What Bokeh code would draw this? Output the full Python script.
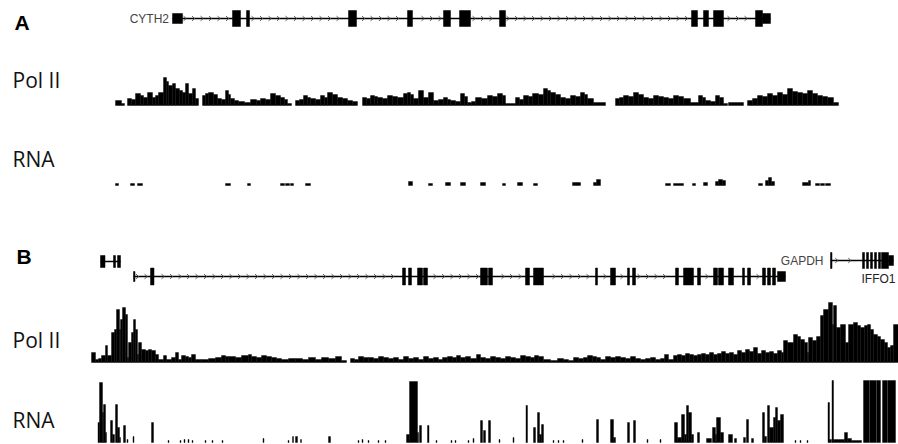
import numpy as np
from bokeh.plotting import figure
from bokeh.models import Range1d
from bokeh.core.properties import value
from bokeh.embed import file_html
from bokeh.resources import INLINE

# ---------------- data: positions in kb along each panel window, signal in a.u. -------------
panel_letters = ["A", "B"]
track_labels = ["Pol II", "RNA", "Pol II", "RNA"]

# Panel A gene (CYTH2): exons (start, end, kind)  kind: c = coding, u = UTR
cyth2_span = (17.2, 77.0)
cyth2_exons = [(17.2, 18.2, "u"), (23.2, 24.0, "c"), (24.6, 24.9, "c"), (34.8, 35.6, "c"),
               (40.7, 41.2, "c"), (44.3, 45.0, "c"), (45.9, 47.0, "c"), (49.9, 50.5, "c"),
               (69.1, 69.7, "c"), (70.3, 70.8, "c"), (71.3, 72.3, "c"), (75.5, 76.2, "c"),
               (76.2, 77.0, "u")]

# Panel B genes
small_span = (10.0, 12.0)
small_exons = [(10.0, 10.45, "c"), (11.3, 11.5, "c"), (11.7, 12.0, "c")]
ncapd2_span = (13.3, 78.5)
ncapd2_exons = [(13.3, 13.45, "u"), (15.0, 15.35, "c"), (40.2, 40.5, "c"), (40.8, 41.1, "c"),
                (41.7, 42.2, "c"), (42.3, 42.7, "c"), (48.0, 48.7, "c"), (48.8, 49.2, "c"),
                (52.5, 52.9, "c"), (53.3, 54.3, "c"), (59.5, 59.7, "c"), (61.0, 61.5, "c"),
                (62.7, 62.9, "c"), (63.2, 63.5, "c"), (67.5, 67.8, "c"), (68.3, 69.3, "c"),
                (69.7, 70.0, "c"), (71.3, 71.7, "c"), (71.8, 72.3, "c"), (72.8, 73.3, "c"),
                (74.2, 74.4, "c"), (74.7, 75.0, "c"), (76.2, 76.5, "c"), (76.7, 77.0, "c"),
                (77.2, 77.5, "c"), (77.7, 78.5, "u")]
gapdh_span = (83.0, 89.3)
gapdh_exons = [(83.0, 83.15, "c"), (86.2, 86.4, "c"), (86.6, 86.8, "c"), (87.0, 87.2, "c"),
               (87.4, 87.6, "c"), (87.8, 88.0, "c"), (88.1, 88.8, "c"), (88.8, 89.3, "u")]
gene_names = ["CYTH2", "GAPDH", "IFFO1"]

# Pol II, panel A: (bin start kb, signal); last bin ends at pol2_a_end
pol2_a = [(11.5, 5), (12.1, 2), (12.4, 0), (12.7, 7), (13.1, 6), (13.5, 12), (14.0, 10), (14.3, 8),
          (14.7, 13), (15.2, 8), (15.5, 10), (15.8, 13), (16.3, 28), (16.6, 24), (16.8, 20), (17.2, 22),
          (17.5, 17), (17.9, 15), (18.2, 13), (18.5, 22), (18.8, 12), (19.2, 17), (19.5, 7), (19.8, 0),
          (20.2, 10), (20.5, 12), (20.8, 13), (21.3, 11), (21.7, 7), (22.1, 6), (22.5, 15), (22.8, 11),
          (23.0, 7), (23.4, 5), (23.8, 4), (24.4, 3), (25.0, 6), (25.6, 5), (26.0, 7), (26.5, 6),
          (27.0, 12), (27.5, 10), (28.0, 8), (28.4, 6), (28.7, 2), (29.1, 0), (29.5, 5), (29.9, 6),
          (30.3, 10), (30.7, 8), (31.0, 7), (31.5, 6), (32.0, 10), (32.4, 8), (32.7, 13), (33.2, 11),
          (33.7, 8), (34.2, 7), (34.7, 5), (35.2, 4), (35.7, 0), (36.2, 8), (36.6, 7), (37.0, 10),
          (37.4, 9), (37.7, 8), (38.2, 7), (38.7, 10), (39.2, 9), (39.7, 8), (40.3, 12), (40.7, 13),
          (41.0, 11), (41.3, 7), (41.8, 15), (42.3, 8), (42.8, 13), (43.3, 5), (43.8, 6), (44.3, 8),
          (44.7, 6), (45.0, 5), (45.5, 4), (46.0, 12), (46.4, 9), (46.7, 3), (47.1, 4), (47.5, 8),
          (48.1, 7), (48.7, 10), (49.2, 9), (49.7, 12), (50.2, 10), (50.5, 2), (51.5, 8), (51.9, 6),
          (52.3, 10), (52.8, 9), (53.2, 12), (53.8, 11), (54.3, 17), (54.7, 15), (55.0, 13), (55.5, 11),
          (56.0, 8), (56.5, 7), (57.0, 10), (57.5, 9), (58.0, 13), (58.4, 11), (58.7, 7), (59.3, 3),
          (60.5, 0), (61.5, 7), (61.9, 8), (62.3, 10), (62.8, 9), (63.3, 13), (63.8, 11), (64.3, 8),
          (64.8, 7), (65.3, 10), (65.8, 9), (66.3, 8), (66.8, 7), (67.3, 10), (67.8, 9), (68.3, 7),
          (69.0, 3), (69.8, 10), (70.2, 8), (70.5, 5), (71.0, 4), (71.5, 10), (71.9, 8), (72.3, 2),
          (72.7, 0), (72.8, 3), (74.3, 0), (74.7, 5), (75.2, 7), (75.7, 10), (76.2, 9), (76.7, 12),
          (77.2, 10), (77.7, 13), (78.2, 11), (78.7, 17), (79.2, 14), (79.7, 13), (80.2, 12), (80.7, 15),
          (81.2, 12), (81.7, 10), (82.2, 9), (82.7, 8), (83.3, 3)]
pol2_a_end = 83.8

# RNA, panel A: (start, end, signal)
rna_a = [(11.5, 11.8, 2), (13.0, 13.4, 2), (13.7, 14.2, 2), (22.5, 23.0, 2), (24.7, 25.0, 2),
         (28.0, 28.4, 2), (28.5, 28.9, 2), (29.0, 29.3, 2), (30.5, 31.0, 2), (40.8, 41.2, 4),
         (42.8, 43.2, 2), (44.5, 45.0, 3), (46.0, 46.5, 3), (48.0, 48.5, 3), (50.2, 50.5, 2),
         (51.7, 52.2, 3), (53.3, 53.7, 2), (57.2, 58.0, 3), (59.3, 59.6, 3), (59.6, 60.0, 6),
         (66.5, 67.0, 2), (67.3, 68.3, 2), (69.2, 69.5, 2), (70.3, 70.7, 3), (71.5, 71.8, 4),
         (71.8, 72.2, 6), (72.2, 72.5, 5), (75.8, 76.2, 2), (76.5, 76.8, 5), (76.8, 77.1, 8),
         (77.1, 77.4, 4), (80.2, 80.8, 3), (80.8, 81.0, 5), (81.5, 81.9, 2), (82.0, 82.4, 2),
         (82.5, 83.0, 2)]

# Pol II, panel B: (bin start kb, signal); last bin ends at pol2_b_end
pol2_b = [(9.1, 10), (9.5, 3), (9.8, 4), (10.1, 7), (10.5, 17), (10.7, 7), (11.1, 30), (11.4, 33),
          (11.6, 53), (11.9, 33), (12.0, 43), (12.2, 55), (12.5, 48), (12.7, 5), (12.8, 20), (13.1, 30),
          (13.3, 43), (13.5, 33), (13.7, 8), (13.8, 20), (14.1, 13), (14.5, 12), (14.8, 13), (15.1, 12),
          (15.5, 8), (15.8, 3), (16.3, 7), (16.6, 3), (17.1, 5), (17.5, 10), (17.8, 3), (18.1, 7),
          (18.5, 6), (18.8, 5), (19.1, 8), (19.5, 3), (20.1, 3), (20.8, 4), (21.5, 5), (22.1, 7),
          (22.5, 6), (22.8, 6), (23.5, 5), (24.1, 7), (24.8, 8), (25.1, 6), (25.6, 5), (26.1, 7),
          (26.6, 6), (27.1, 5), (27.6, 4), (28.1, 3), (28.8, 4), (29.5, 4), (30.2, 3), (30.8, 5),
          (31.5, 3), (32.1, 5), (32.8, 4), (33.5, 6), (34.1, 2), (34.6, 0), (35.0, 4), (35.4, 3),
          (35.8, 6), (36.3, 5), (36.8, 5), (37.3, 4), (37.8, 6), (38.3, 5), (38.8, 4), (39.3, 5),
          (39.8, 3), (40.3, 6), (40.8, 4), (41.3, 5), (41.8, 3), (42.3, 6), (42.8, 4), (43.3, 5),
          (43.8, 3), (44.2, 5), (44.7, 6), (45.2, 5), (45.6, 7), (46.0, 5), (46.5, 6), (47.0, 4),
          (47.6, 8), (48.0, 5), (48.5, 4), (49.0, 6), (49.5, 5), (50.0, 4), (50.5, 6), (51.0, 5),
          (51.5, 4), (52.0, 7), (52.5, 6), (53.0, 5), (53.4, 7), (53.8, 6), (54.3, 3), (55.0, 2),
          (55.7, 4), (56.3, 3), (56.8, 2), (57.3, 5), (57.8, 4), (58.3, 5), (58.7, 7), (59.2, 6),
          (59.6, 5), (60.0, 3), (60.5, 6), (61.0, 5), (61.5, 6), (62.0, 5), (62.5, 4), (63.0, 6),
          (63.5, 4), (64.0, 3), (64.5, 4), (65.0, 5), (65.5, 3), (66.0, 4), (66.4, 8), (66.8, 3),
          (67.3, 7), (67.7, 8), (68.1, 7), (68.5, 9), (68.9, 8), (69.3, 7), (69.7, 8), (70.1, 9),
          (70.5, 8), (70.9, 10), (71.3, 8), (71.7, 9), (72.1, 11), (72.5, 9), (72.9, 10), (73.3, 8),
          (73.7, 12), (74.1, 10), (74.5, 13), (74.9, 11), (75.3, 15), (75.7, 9), (76.1, 12), (76.5, 10),
          (76.9, 11), (77.3, 9), (77.7, 12), (78.1, 10), (78.3, 22), (78.7, 20), (79.3, 28), (79.7, 26),
          (80.0, 23), (80.4, 20), (80.7, 10), (80.8, 25), (81.2, 22), (81.6, 26), (82.0, 47), (82.3, 53),
          (82.8, 60), (83.2, 38), (83.3, 57), (83.6, 35), (84.0, 38), (84.5, 20), (84.8, 38), (85.3, 40),
          (85.7, 37), (86.0, 35), (86.4, 37), (86.7, 38), (87.0, 33), (87.3, 28), (87.7, 26), (88.0, 23),
          (88.4, 20), (88.7, 15), (89.0, 17), (89.3, 38)]
pol2_b_end = 89.8

# RNA, panel B: (start, end, signal); 62 = saturated
rna_b = [(9.75, 9.9, 20), (9.9, 10.2, 60), (10.2, 10.3, 30), (10.3, 10.5, 38), (10.5, 10.6, 10),
         (11.0, 11.2, 22), (11.2, 11.4, 8), (11.5, 11.7, 38), (11.7, 11.9, 15), (11.9, 12.0, 5),
         (12.3, 12.5, 17), (12.65, 12.75, 3), (13.25, 13.35, 6), (15.1, 15.3, 20), (16.75, 16.85, 2),
         (17.95, 18.05, 2), (18.35, 18.45, 3), (18.75, 18.85, 3), (19.15, 19.25, 2), (20.45, 20.55, 2),
         (21.15, 21.25, 2), (22.15, 22.25, 2), (26.25, 26.35, 4), (28.75, 28.85, 2), (29.2, 29.3, 6),
         (29.5, 29.7, 6), (30.0, 30.1, 3), (32.8, 33.0, 6), (35.75, 35.85, 2), (36.15, 36.25, 3),
         (36.75, 36.85, 2), (37.75, 37.85, 2), (38.45, 38.55, 2), (40.6, 40.9, 8), (40.9, 41.7, 61),
         (41.7, 41.8, 10), (41.9, 42.1, 17), (42.7, 42.85, 17), (43.55, 43.65, 2), (45.05, 45.15, 2),
         (45.45, 45.55, 2), (46.75, 46.85, 2), (47.25, 47.35, 4), (48.0, 48.2, 22), (48.3, 48.5, 12),
         (48.8, 49.0, 22), (49.85, 49.95, 3), (51.25, 51.35, 5), (52.55, 52.7, 37), (53.3, 53.5, 15),
         (53.7, 53.9, 30), (53.9, 54.1, 8), (54.1, 54.3, 18), (55.25, 55.35, 2), (55.75, 55.85, 2),
         (56.25, 56.35, 2), (58.15, 58.25, 3), (59.6, 59.8, 23), (61.0, 61.3, 23), (61.3, 61.5, 5),
         (62.7, 62.9, 20), (63.3, 63.5, 22), (64.65, 64.75, 3), (65.95, 66.05, 3), (67.4, 67.7, 20),
         (67.7, 68.1, 5), (68.1, 68.4, 28), (68.4, 68.6, 8), (68.6, 68.8, 37), (68.8, 69.1, 30),
         (69.1, 69.3, 8), (69.7, 69.9, 10), (70.6, 71.1, 4), (71.2, 71.5, 15), (71.5, 71.6, 8),
         (71.6, 72.0, 25), (72.0, 72.3, 10), (72.8, 73.2, 8), (73.4, 73.6, 4), (74.3, 74.5, 5),
         (74.6, 74.8, 23), (75.1, 75.3, 4), (76.2, 76.4, 30), (76.4, 76.6, 6), (76.7, 76.9, 37),
         (76.9, 77.3, 15), (77.3, 77.5, 25), (77.5, 77.7, 35), (77.7, 78.0, 22), (78.0, 78.3, 28),
         (79.45, 79.55, 2), (79.95, 80.05, 2), (80.65, 80.75, 2), (82.75, 82.9, 40), (82.9, 83.1, 3),
         (83.15, 83.3, 62), (83.3, 84.4, 3), (84.4, 84.7, 10), (84.7, 85.1, 4), (85.1, 86.1, 2),
         (86.3, 86.9, 62), (86.95, 87.6, 62), (87.65, 88.0, 62), (88.2, 88.7, 62), (88.75, 89.5, 62)]

# ---------------- figure ----------------
p = figure(width=898, height=444, x_range=Range1d(0.0, 89.8), y_range=Range1d(444, 0),
           output_backend="svg", toolbar_location=None, x_axis_location=None,
           y_axis_location=None, min_border=0)
p.grid.visible = False
p.outline_line_color = None

# layout lanes (vertical placement of tracks)
LANE = {"geneA": 18, "pol2A": 105, "rnaA": 185, "small": 261, "geneB": 276,
        "gapdh": 260, "pol2B": 362, "rnaB": 442}


def draw_binned(bins, end, base):
    st = np.array([b[0] for b in bins], float)
    h = np.array([b[1] for b in bins], float)
    en = np.append(st[1:], end)
    m = h > 0
    p.quad(left=st[m], right=en[m], bottom=base, top=base - h[m],
           fill_color="black", line_color="black", line_width=0.4)


def draw_intervals(iv, base):
    st = np.array([r[0] for r in iv], float)
    en = np.array([r[1] for r in iv], float)
    h = np.array([r[2] for r in iv], float)
    p.quad(left=st, right=en, bottom=base, top=base - h,
           fill_color="black", line_color="black", line_width=0.4)


def draw_gene(span, exons, lane, full, utr, step=0.85, chevrons=True):
    p.segment(x0=[span[0]], y0=[lane], x1=[span[1]], y1=[lane],
              line_color="black", line_width=1.4)
    if chevrons:
        xs = np.arange(span[0] + step / 2, span[1], step)
        keep = [x for x in xs if all(not (s - 0.25 <= x <= e + 0.25) for s, e, _ in exons)]
        xs = np.array(keep)
        p.segment(x0=xs - 0.17, y0=lane - 2.3, x1=xs + 0.1, y1=lane,
                  line_color="#555555", line_width=1)
        p.segment(x0=xs - 0.17, y0=lane + 2.3, x1=xs + 0.1, y1=lane,
                  line_color="#555555", line_width=1)
    st = np.array([e[0] for e in exons])
    en = np.array([e[1] for e in exons])
    hh = np.array([full if e[2] == "c" else utr for e in exons], float)
    p.quad(left=st, right=en, bottom=lane + hh, top=lane - hh,
           fill_color="black", line_color="black", line_width=0.5)


# gene models
draw_gene(cyth2_span, cyth2_exons, LANE["geneA"], 8, 5)
draw_gene(small_span, small_exons, LANE["small"], 6, 4, chevrons=False)
draw_gene(ncapd2_span, ncapd2_exons, LANE["geneB"], 8.5, 5)
draw_gene(gapdh_span, gapdh_exons, LANE["gapdh"], 8, 5, step=1.3)

# signal tracks
draw_binned(pol2_a, pol2_a_end, LANE["pol2A"])
draw_intervals(rna_a, LANE["rnaA"])
draw_binned(pol2_b, pol2_b_end, LANE["pol2B"])
draw_intervals(rna_b, LANE["rnaB"])

# texts (vertically centred on the visual centre of the capitals)
p.text(x=[1.4, 1.6], y=[22, 256], text=panel_letters, text_font=value("Liberation Sans"),
       text_font_style="bold", text_font_size=value("21px"), text_color="black",
       text_baseline="middle", text_align="left")
p.text(x=[1.2, 1.2, 1.2, 1.2], y=[79, 158, 339, 419], text=track_labels,
       text_font=value("Open Sans"), text_font_size=value("21px"), text_color="#111111",
       text_baseline="middle", text_align="left")
p.text(x=[16.85, 82.3, 89.5], y=[18, 260, 278], text=gene_names,
       text_font=value("Liberation Sans"), text_font_size=value("12px"),
       text_color=["#444444", "#444444", "#222222"],
       text_baseline="middle", text_align="right")

open("out.html", "w").write(file_html(p, INLINE))
